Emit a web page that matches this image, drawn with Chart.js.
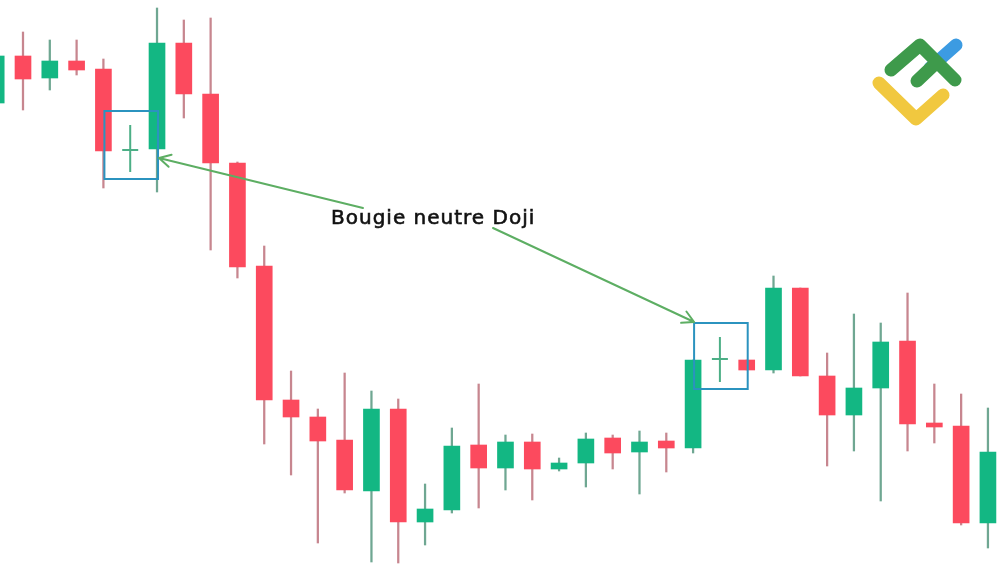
<!DOCTYPE html>
<html>
<head>
<meta charset="utf-8">
<script src="https://cdn.jsdelivr.net/npm/chart.js@4"></script>
<style>
  html, body { margin: 0; padding: 0; background: #fff; }
  #wrap { width: 1000px; height: 588px; }
</style>
</head>
<body>
<div id="wrap"><canvas id="dojiChart" width="1000" height="588"></canvas></div>
<script>
// bougies (prix fictifs)
const ouverture = [1485, 1532, 1510, 1527, 1519, 1437, 1439, 1545, 1494, 1425, 1322, 1188, 1171, 1148, 1097, 1179, 1066, 1078, 1143, 1120, 1146, 1119, 1125, 1150, 1136, 1147, 1140, 1228, 1228, 1218, 1300, 1212, 1173, 1200, 1247, 1165, 1162, 1065];
const haut      = [1532, 1556, 1548, 1548, 1529, 1463, 1580, 1568, 1570, 1426, 1342, 1217, 1179, 1215, 1197, 1189, 1104, 1160, 1204, 1153, 1154, 1130, 1155, 1153, 1157, 1155, 1228, 1251, 1228, 1312, 1300, 1235, 1274, 1265, 1295, 1204, 1194, 1180];
const bas       = [1485, 1478, 1498, 1513, 1400, 1416, 1396, 1470, 1338, 1310, 1144, 1113, 1045, 1095, 1026, 1025, 1043, 1075, 1080, 1098, 1088, 1117, 1101, 1119, 1094, 1116, 1135, 1206, 1218, 1215, 1212, 1122, 1137, 1087, 1137, 1145, 1063, 1040];
const cloture   = [1532, 1509, 1527, 1518, 1437, 1439, 1545, 1494, 1425, 1321, 1188, 1171, 1147, 1098, 1179, 1066, 1079, 1142, 1120, 1146, 1119, 1125, 1149, 1135, 1146, 1140, 1228, 1230, 1218, 1300, 1212, 1173, 1200, 1246, 1164, 1161, 1065, 1136];
const dojis = [5, 27];
const etiquette = 'Bougie neutre Doji';

const VERT = '#13b783';
const ROUGE = '#fc4a5e';
const MECHE_VERT = '#6fa792';
const MECHE_ROUGE = '#c7868f';

const hausse = ouverture.map((o, i) => cloture[i] >= o);

const meches = haut.map((h, i) => ({ x: i, y: [bas[i], h] }));
const corps = ouverture.map((o, i) => ({ x: i, y: [Math.min(o, cloture[i]), Math.max(o, cloture[i])] }));

// cadres + fleches + logo
const annotations = {
    id: 'annotations',
    afterDatasetsDraw(chart) {
        const c = chart.ctx;
        const sx = chart.scales.x, sy = chart.scales.y;

        // petits traits des dojis
        dojis.forEach(i => {
            const px = sx.getPixelForValue(i);
            const py = sy.getPixelForValue((ouverture[i] + cloture[i]) / 2);
            c.save();
            c.strokeStyle = '#4caf86';
            c.lineWidth = 2;
            c.beginPath();
            c.moveTo(px - 8, py); c.lineTo(px + 8, py);
            c.moveTo(px, sy.getPixelForValue(haut[i])); c.lineTo(px, sy.getPixelForValue(bas[i]));
            c.stroke();
            c.restore();
        });

        const boites = dojis.map(i => ({
            l: sx.getPixelForValue(i - 1) + 1,
            r: sx.getPixelForValue(i + 1) + 1,
            t: sy.getPixelForValue(haut[i] + 14),
            b: sy.getPixelForValue(bas[i] - 7)
        }));

        c.save();
        c.strokeStyle = '#2b93bf';
        c.lineWidth = 2;
        boites.forEach(b => c.strokeRect(b.l, b.t, b.r - b.l, b.b - b.t));
        c.restore();

        function fleche(x1, y1, x2, y2) {
            const a = Math.atan2(y2 - y1, x2 - x1);
            const L = 13;
            c.beginPath();
            c.moveTo(x1, y1); c.lineTo(x2, y2);
            c.moveTo(x2, y2); c.lineTo(x2 - L * Math.cos(a - 0.5), y2 - L * Math.sin(a - 0.5));
            c.moveTo(x2, y2); c.lineTo(x2 - L * Math.cos(a + 0.5), y2 - L * Math.sin(a + 0.5));
            c.stroke();
        }
        c.save();
        c.strokeStyle = '#5dae63';
        c.lineWidth = 2;
        c.lineCap = 'round';
        fleche(363, 208, boites[0].r + 1, 158);
        fleche(493, 228, boites[1].l, boites[1].t - 1);
        c.restore();

        c.save();
        c.fillStyle = '#111';
        c.strokeStyle = '#111';
        c.lineWidth = 0.6;
        c.font = '20px "DejaVu Sans", sans-serif';
        c.letterSpacing = '1px';
        c.textBaseline = 'alphabetic';
        c.fillText(etiquette, 331, 224);
        c.strokeText(etiquette, 331, 224);
        c.restore();

        // logo
        c.save();
        c.lineCap = 'round';
        c.lineJoin = 'round';
        c.lineWidth = 13;
        c.strokeStyle = '#3c9be2';
        c.beginPath(); c.moveTo(930, 68); c.lineTo(956, 45); c.stroke();
        c.strokeStyle = '#f1c83f';
        c.beginPath(); c.moveTo(879, 83); c.lineTo(916, 119); c.lineTo(943, 95); c.stroke();
        c.strokeStyle = '#3e9a4b';
        c.beginPath(); c.moveTo(891, 70); c.lineTo(920, 45); c.lineTo(955, 80); c.stroke();
        c.beginPath(); c.moveTo(917, 81); c.lineTo(936, 63); c.stroke();
        c.restore();
    }
};

new Chart(document.getElementById('dojiChart').getContext('2d'), {
    type: 'bar',
    data: {
        datasets: [
            {
                label: 'meches',
                data: meches,
                backgroundColor: hausse.map((h, i) => dojis.includes(i) ? 'rgba(0,0,0,0)' : (h ? MECHE_VERT : MECHE_ROUGE)),
                barThickness: 1.6,
                grouped: false,
                order: 2
            },
            {
                label: 'corps',
                data: corps,
                backgroundColor: hausse.map((h, i) => dojis.includes(i) ? 'rgba(0,0,0,0)' : (h ? VERT : ROUGE)),
                barThickness: 16,
                grouped: false,
                order: 1
            }
        ]
    },
    options: {
        responsive: false,
        animation: false,
        layout: { padding: 0 },
        plugins: {
            legend: { display: false },
            tooltip: { enabled: false }
        },
        scales: {
            x: {
                type: 'linear',
                display: false,
                offset: false,
                min: 0.142,
                max: 37.45
            },
            y: {
                display: false,
                min: 1000,
                max: 1588
            }
        }
    },
    plugins: [annotations]
});
</script>
</body>
</html>
